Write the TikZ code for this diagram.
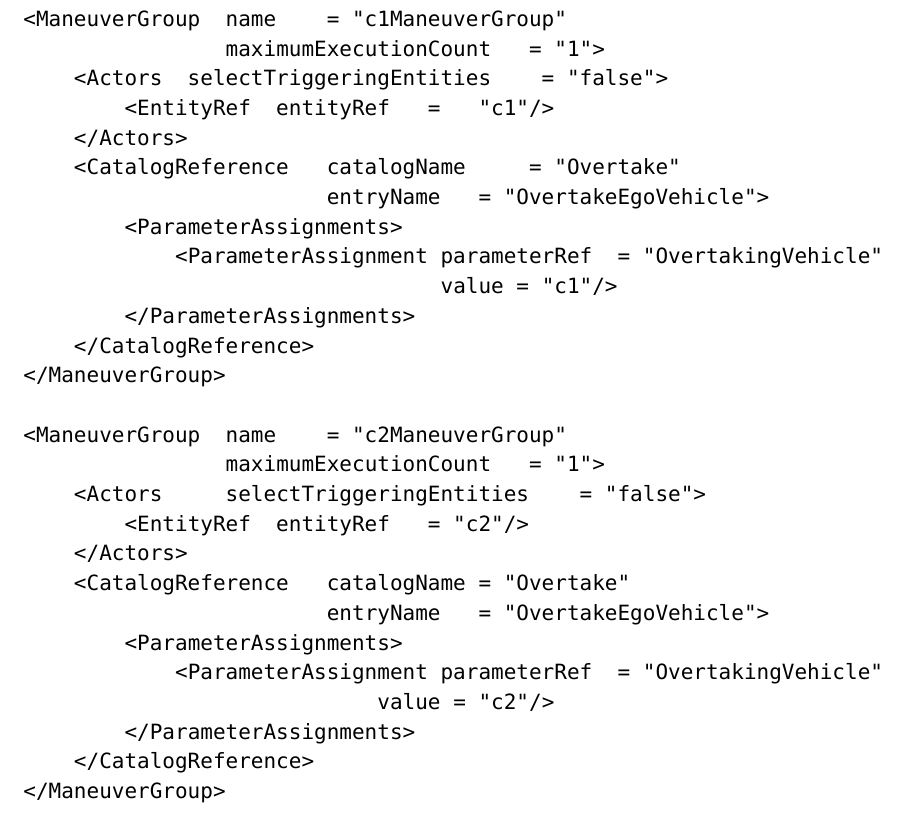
\documentclass[tikz,border=0pt]{standalone}
\usepackage{fontspec}
\setmonofont{DejaVu Sans Mono}
\newcommand\colw{12.643pt}
\newcommand\rowh{29.7pt}
\begin{document}
\begin{tikzpicture}[
  codeline/.style={anchor=base west, inner sep=0pt, text=black, font=\ttfamily\fontsize{21}{25}\selectfont},
  x=1pt, y=1pt
]
\useasboundingbox (-23.2,26.3) rectangle (884.8,-785.7);
% first maneuver group
\node[codeline] (groupA) at (0,0) {<ManeuverGroup~~name~~~~=~"c1ManeuverGroup"};
\node[codeline] (countA) at (16*\colw,-1*\rowh) {maximumExecutionCount~~~=~"1">};
\node[codeline] (actorsA) at (4*\colw,-2*\rowh) {<Actors~~selectTriggeringEntities~~~~=~"false">};
\node[codeline] (entityA) at (8*\colw,-3*\rowh) {<EntityRef~~entityRef~~~=~~~"c1"/>};
\node[codeline] (actorsEndA) at (4*\colw,-4*\rowh) {</Actors>};
\node[codeline] (catalogA) at (4*\colw,-5*\rowh) {<CatalogReference~~~catalogName~~~~~=~"Overtake"};
\node[codeline] (entryA) at (24*\colw,-6*\rowh) {entryName~~~=~"OvertakeEgoVehicle">};
\node[codeline] (paramsA) at (8*\colw,-7*\rowh) {<ParameterAssignments>};
\node[codeline] (paramA) at (12*\colw,-8*\rowh) {<ParameterAssignment~parameterRef~~=~"OvertakingVehicle"};
\node[codeline] (valueA) at (33*\colw,-9*\rowh) {value~=~"c1"/>};
\node[codeline] (paramsEndA) at (8*\colw,-10*\rowh) {</ParameterAssignments>};
\node[codeline] (catalogEndA) at (4*\colw,-11*\rowh) {</CatalogReference>};
\node[codeline] (groupEndA) at (0,-12*\rowh) {</ManeuverGroup>};
% second maneuver group
\node[codeline] (groupB) at (0,-14*\rowh) {<ManeuverGroup~~name~~~~=~"c2ManeuverGroup"};
\node[codeline] (countB) at (16*\colw,-15*\rowh) {maximumExecutionCount~~~=~"1">};
\node[codeline] (actorsB) at (4*\colw,-16*\rowh) {<Actors~~~~~selectTriggeringEntities~~~~=~"false">};
\node[codeline] (entityB) at (8*\colw,-17*\rowh) {<EntityRef~~entityRef~~~=~"c2"/>};
\node[codeline] (actorsEndB) at (4*\colw,-18*\rowh) {</Actors>};
\node[codeline] (catalogB) at (4*\colw,-19*\rowh) {<CatalogReference~~~catalogName~=~"Overtake"};
\node[codeline] (entryB) at (24*\colw,-20*\rowh) {entryName~~~=~"OvertakeEgoVehicle">};
\node[codeline] (paramsB) at (8*\colw,-21*\rowh) {<ParameterAssignments>};
\node[codeline] (paramB) at (12*\colw,-22*\rowh) {<ParameterAssignment~parameterRef~~=~"OvertakingVehicle"};
\node[codeline] (valueB) at (28*\colw,-23*\rowh) {value~=~"c2"/>};
\node[codeline] (paramsEndB) at (8*\colw,-24*\rowh) {</ParameterAssignments>};
\node[codeline] (catalogEndB) at (4*\colw,-25*\rowh) {</CatalogReference>};
\node[codeline] (groupEndB) at (0,-26*\rowh) {</ManeuverGroup>};
\end{tikzpicture}
\end{document}
